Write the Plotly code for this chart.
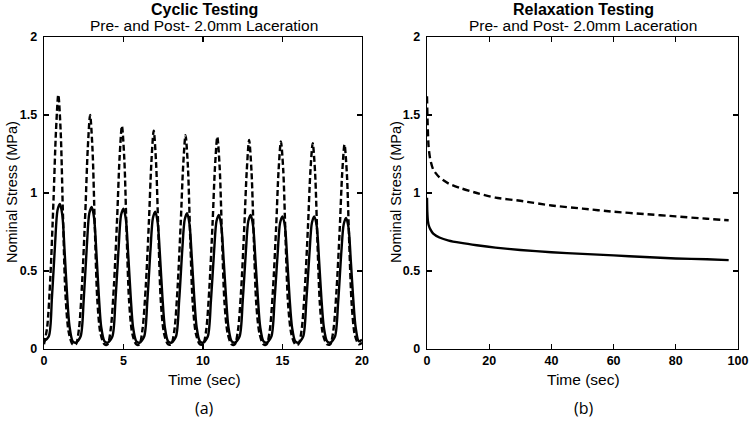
import plotly.graph_objects as go

# ---------------- data ----------------
# Cyclic testing: one sample-time template per cycle (offset in s from cycle start)
cyc_period = 2.0
dashed_offsets = [0.0, 0.2, 0.4, 0.6, 0.75, 0.9, 1.05, 1.2, 1.35, 1.55, 1.8]
solid_offsets = [0.0, 0.3, 0.5, 0.7, 0.85, 1.0, 1.15, 1.3, 1.45, 1.6, 1.8]

dashed_cycles = [
    [0.03, 0.14, 0.46, 0.96, 1.39, 1.63, 1.39, 0.83, 0.35, 0.11, 0.03],
    [0.03, 0.13, 0.43, 0.88, 1.28, 1.50, 1.28, 0.77, 0.32, 0.10, 0.03],
    [0.03, 0.13, 0.41, 0.84, 1.22, 1.43, 1.22, 0.73, 0.31, 0.10, 0.03],
    [0.03, 0.13, 0.40, 0.82, 1.19, 1.40, 1.19, 0.72, 0.30, 0.10, 0.03],
    [0.03, 0.12, 0.39, 0.81, 1.17, 1.37, 1.17, 0.70, 0.30, 0.10, 0.03],
    [0.03, 0.12, 0.39, 0.80, 1.16, 1.36, 1.16, 0.70, 0.30, 0.10, 0.03],
    [0.03, 0.12, 0.38, 0.79, 1.14, 1.34, 1.14, 0.69, 0.29, 0.10, 0.03],
    [0.03, 0.12, 0.38, 0.78, 1.14, 1.33, 1.14, 0.68, 0.29, 0.10, 0.03],
    [0.03, 0.12, 0.38, 0.78, 1.13, 1.32, 1.13, 0.68, 0.29, 0.09, 0.03],
    [0.03, 0.12, 0.38, 0.77, 1.12, 1.31, 1.12, 0.67, 0.29, 0.09, 0.03],
]
solid_cycles = [
    [0.05, 0.08, 0.33, 0.68, 0.89, 0.93, 0.86, 0.62, 0.35, 0.15, 0.05],
    [0.04, 0.08, 0.32, 0.67, 0.87, 0.91, 0.84, 0.61, 0.34, 0.14, 0.05],
    [0.04, 0.08, 0.32, 0.66, 0.86, 0.90, 0.83, 0.60, 0.34, 0.14, 0.05],
    [0.04, 0.08, 0.31, 0.64, 0.84, 0.88, 0.81, 0.59, 0.33, 0.14, 0.05],
    [0.04, 0.08, 0.31, 0.64, 0.83, 0.87, 0.80, 0.58, 0.33, 0.14, 0.05],
    [0.04, 0.08, 0.31, 0.63, 0.82, 0.86, 0.79, 0.57, 0.33, 0.14, 0.05],
    [0.04, 0.08, 0.31, 0.63, 0.82, 0.86, 0.79, 0.57, 0.33, 0.14, 0.05],
    [0.04, 0.08, 0.31, 0.62, 0.81, 0.85, 0.79, 0.57, 0.32, 0.14, 0.05],
    [0.04, 0.08, 0.31, 0.62, 0.81, 0.85, 0.79, 0.57, 0.32, 0.14, 0.05],
    [0.04, 0.08, 0.30, 0.62, 0.80, 0.84, 0.78, 0.56, 0.32, 0.14, 0.05],
]
cyc_end_t = 20.0
cyc_end_dashed = 0.04
cyc_end_solid = 0.06

# Relaxation testing
relax_t_dashed = [0, 0.2, 0.5, 1, 2, 4, 7, 11, 16, 22, 30, 40, 50, 60, 70, 80, 90, 97]
relax_dashed = [1.62, 1.45, 1.30, 1.22, 1.15, 1.10, 1.06, 1.03, 1.00, 0.97,
                0.95, 0.92, 0.90, 0.88, 0.865, 0.85, 0.835, 0.825]
relax_t_solid = [0, 0.1, 0.3, 0.6, 1, 2, 4, 7, 11, 16, 22, 30, 40, 50, 60, 70, 80, 90, 97]
relax_solid = [0.97, 0.88, 0.82, 0.79, 0.77, 0.74, 0.715, 0.695, 0.68, 0.665,
               0.65, 0.635, 0.62, 0.61, 0.60, 0.59, 0.58, 0.575, 0.57]

y_ticks = [0, 0.5, 1, 1.5, 2]
y_tick_text = ["0", "0.5", "1", "1.5", "2"]
x_ticks_a = [0, 5, 10, 15, 20]
x_ticks_b = [0, 20, 40, 60, 80, 100]

# ---------------- build series ----------------
def build(offsets, cycles, end_t, end_v):
    xs, ys = [], []
    for k, vals in enumerate(cycles):
        for o, v in zip(offsets, vals):
            xs.append(k * cyc_period + o)
            ys.append(v)
    xs.append(end_t)
    ys.append(end_v)
    return xs, ys

dx, dy = build(dashed_offsets, dashed_cycles, cyc_end_t, cyc_end_dashed)
sx, sy = build(solid_offsets, solid_cycles, cyc_end_t, cyc_end_solid)

fig = go.Figure()
LW = 2.4
fig.add_trace(go.Scatter(x=dx, y=dy, mode="lines", line=dict(color="black", width=LW, dash="6px,3px", shape="spline", smoothing=0.8),
                         xaxis="x", yaxis="y", showlegend=False, hoverinfo="skip"))
fig.add_trace(go.Scatter(x=sx, y=sy, mode="lines", line=dict(color="black", width=LW, shape="spline", smoothing=0.8),
                         xaxis="x", yaxis="y", showlegend=False, hoverinfo="skip"))
fig.add_trace(go.Scatter(x=relax_t_dashed, y=relax_dashed, mode="lines",
                         line=dict(color="black", width=LW, dash="7px,4px", shape="spline", smoothing=0.6),
                         xaxis="x2", yaxis="y2", showlegend=False, hoverinfo="skip"))
fig.add_trace(go.Scatter(x=relax_t_solid, y=relax_solid, mode="lines",
                         line=dict(color="black", width=LW, shape="spline", smoothing=0.6),
                         xaxis="x2", yaxis="y2", showlegend=False, hoverinfo="skip"))

W, H = 750, 422
def px(x):
    return x / W
def py(y):
    return 1 - y / H

ydom = [py(349), py(37)]
tickfont = dict(family="Liberation Sans, Arial, sans-serif", size=12.5, color="black", weight="bold")
axis_common = dict(showline=True, linecolor="black", linewidth=1.3, mirror="ticks",
                   ticks="inside", ticklen=5, tickwidth=1.3, tickcolor="black",
                   showgrid=False, zeroline=False, tickfont=tickfont, automargin=False)

fig.update_layout(
    template="none",
    width=W, height=H,
    margin=dict(l=0, r=0, t=0, b=0, pad=0),
    paper_bgcolor="white", plot_bgcolor="white",
    xaxis=dict(domain=[px(44), px(362)], range=[0, 20], tickvals=x_ticks_a,
               ticktext=[str(v) for v in x_ticks_a], anchor="y", **axis_common),
    yaxis=dict(domain=ydom, range=[0, 2], tickvals=y_ticks, ticktext=y_tick_text,
               anchor="x", ticklabelstandoff=3, **axis_common),
    xaxis2=dict(domain=[px(427), px(738)], range=[0, 100], tickvals=x_ticks_b,
                ticktext=[str(v) for v in x_ticks_b], anchor="y2", **axis_common),
    yaxis2=dict(domain=ydom, range=[0, 2], tickvals=y_ticks, ticktext=y_tick_text,
                anchor="x2", ticklabelstandoff=3, **axis_common),
)

tfont = "Liberation Sans, Arial, sans-serif"
ann = []
def add_text(x, y, text, size, bold=False, angle=0, family=tfont):
    ann.append(dict(x=px(x), y=py(y), xref="paper", yref="paper", text=f"<b>{text}</b>" if bold else text,
                    showarrow=False, textangle=angle, xanchor="center", yanchor="middle",
                    font=dict(family=family, size=size, color="black")))

add_text(204, 9, "Cyclic Testing", 16, bold=True)
add_text(204, 26, "Pre- and Post- 2.0mm Laceration", 15.5)
add_text(583, 9, "Relaxation Testing", 16, bold=True)
add_text(583, 26, "Pre- and Post- 2.0mm Laceration", 15.5)
add_text(12, 192, "Nominal Stress (MPa)", 14.5, angle=-90)
add_text(396, 192, "Nominal Stress (MPa)", 14.5, angle=-90)
add_text(204, 379, "Time (sec)", 15.5)
add_text(583, 379, "Time (sec)", 15.5)
add_text(204, 408, "(a)", 16, family="Open Sans, sans-serif")
add_text(584, 408, "(b)", 16, family="Open Sans, sans-serif")
fig.update_layout(annotations=ann)

fig.write_html("out.html", config={"displayModeBar": False, "staticPlot": True},
               post_script="document.body.style.margin='0px';document.body.style.padding='0px';document.documentElement.style.overflow='hidden';")
